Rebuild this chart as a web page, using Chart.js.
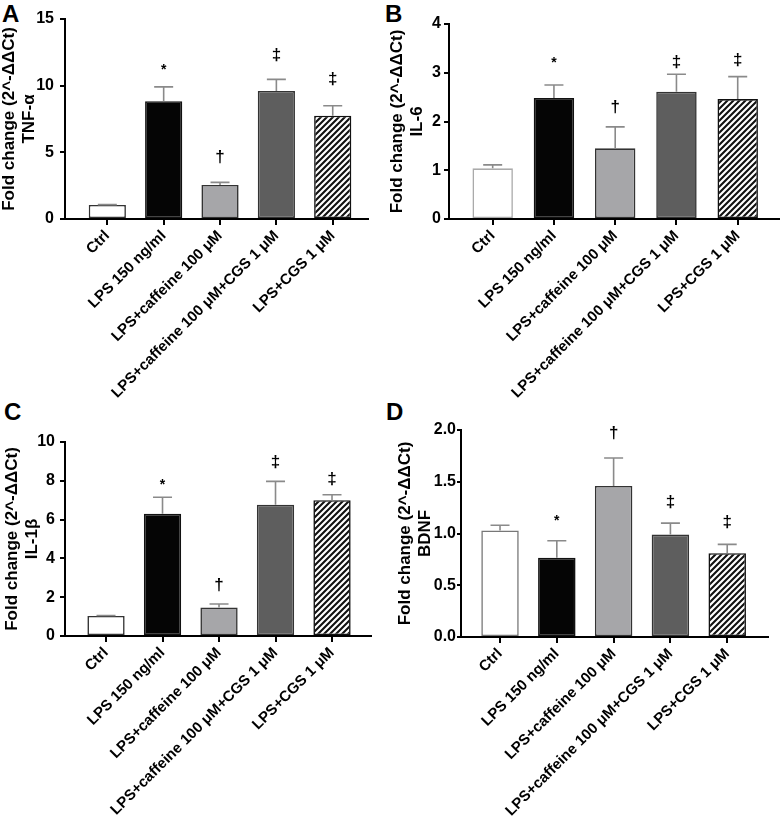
<!DOCTYPE html>
<html><head><meta charset="utf-8">
<script src="https://cdn.jsdelivr.net/npm/chart.js@4.4.0/dist/chart.umd.min.js"></script>
<style>
html,body{margin:0;padding:0;background:#fff;}
body{width:782px;height:826px;position:relative;overflow:hidden;font-family:"Liberation Sans",Arial,sans-serif;}
canvas{position:absolute;}
.lbl{position:absolute;font-weight:bold;font-size:24px;line-height:24px;color:#000;}
</style></head><body>
<div class="lbl" style="left:2px;top:2px">A</div>
<div class="lbl" style="left:385px;top:2px">B</div>
<div class="lbl" style="left:4px;top:400px">C</div>
<div class="lbl" style="left:386px;top:400px">D</div>
<canvas id="cA" width="391" height="400" style="left:0;top:0"></canvas>
<canvas id="cB" width="398" height="400" style="left:384px;top:0"></canvas>
<canvas id="cC" width="391" height="426" style="left:0;top:400px"></canvas>
<canvas id="cD" width="398" height="426" style="left:384px;top:400px"></canvas>
<script>
// ---- data ----
const categories = ['Ctrl', 'LPS 150 ng/ml', 'LPS+caffeine 100 μM', 'LPS+caffeine 100 μM+CGS 1 μM', 'LPS+CGS 1 μM'];
const marks = ['', '*', '†', '‡', '‡'];
const yTitleMain = 'Fold change (2^-ΔΔCt)';

const tnfMean = [1.05, 8.83, 2.55, 9.6, 7.75];
const tnfSem = [0.03, 1.08, 0.2, 0.87, 0.74];
const tnfMarkY = [null, 11.4, 4.66, 12.27, 10.52];
const tnfTicks = [0, 5, 10, 15];

const il6Mean = [1.04, 2.48, 1.45, 2.61, 2.46];
const il6Sem = [0.07, 0.27, 0.44, 0.36, 0.46];
const il6MarkY = [null, 3.26, 2.30, 3.23, 3.26];
const il6Ticks = [0, 1, 2, 3, 4];

const il1bMean = [1.03, 6.3, 1.47, 6.77, 7.0];
const il1bSem = [0.03, 0.85, 0.18, 1.2, 0.28];
const il1bMarkY = [null, 7.95, 2.63, 8.98, 8.08];
const il1bTicks = [0, 2, 4, 6, 8, 10];

const bdnfMean = [1.03, 0.765, 1.46, 0.99, 0.81];
const bdnfSem = [0.05, 0.165, 0.27, 0.11, 0.085];
const bdnfMarkY = [null, 1.15, 1.97, 1.30, 1.11];
const bdnfTicks = [0, 0.5, 1.0, 1.5, 2.0];

// ---- drawing ----
const FAM = '"Liberation Sans", Arial, sans-serif';
Chart.defaults.font.family = FAM;

function makeHatch(ctx) {
  const c = document.createElement('canvas'); c.width = 6; c.height = 6;
  const g = c.getContext('2d');
  g.fillStyle = '#fff'; g.fillRect(0, 0, 6, 6);
  g.strokeStyle = '#111'; g.lineWidth = 2.1;
  g.beginPath();
  g.moveTo(-1, 7); g.lineTo(7, -1);
  g.moveTo(-1, 1); g.lineTo(1, -1);
  g.moveTo(5, 7); g.lineTo(7, 5);
  g.stroke();
  return ctx.createPattern(c, 'repeat');
}

function makeErrPlugin(mean, sem, markY) {
  return {
    id: 'errs',
    afterDatasetsDraw(chart) {
      const ctx = chart.ctx, ys = chart.scales.y;
      const meta = chart.getDatasetMeta(0);
      ctx.save();
      meta.data.forEach((bar, i) => {
        const top = ys.getPixelForValue(mean[i] + sem[i]);
        ctx.strokeStyle = '#8a8a8a'; ctx.lineWidth = 1.6;
        ctx.beginPath();
        ctx.moveTo(bar.x, bar.y); ctx.lineTo(bar.x, top);
        ctx.moveTo(bar.x - 9.5, top); ctx.lineTo(bar.x + 9.5, top);
        ctx.stroke();
        const m = marks[i];
        if (m && markY[i] != null) {
          const yc = ys.getPixelForValue(markY[i]);
          ctx.fillStyle = '#000';
          ctx.font = (m === '*' ? 'bold 14px ' : 'bold 17px ') + FAM;
          ctx.textAlign = 'center'; ctx.textBaseline = 'alphabetic';
          const mt = ctx.measureText(m);
          const yy = yc + (mt.actualBoundingBoxAscent - mt.actualBoundingBoxDescent) / 2;
          ctx.fillText(m, bar.x, yy);
        }
      });
      ctx.restore();
    }
  };
}

function makeChart(id, p) {
  const canvas = document.getElementById(id);
  const ctx = canvas.getContext('2d');
  const hatch = makeHatch(ctx);
  return new Chart(ctx, {
    type: 'bar',
    data: {
      datasets: [{
        data: p.mean.map((v, i) => ({ x: i, y: v })),
        backgroundColor: ['#ffffff', '#050505', '#a6a6a9', '#5e5e5e', hatch],
        borderColor: [p.ctrlBorder, '#111', '#333', '#333', '#111'],
        borderWidth: 1.6,
        borderSkipped: false,
        categoryPercentage: 1,
        barPercentage: 0.66
      }]
    },
    options: {
      responsive: false,
      animation: false,
      events: [],
      layout: { padding: { top: p.top, right: p.right, left: 0, bottom: 0 } },
      plugins: { legend: { display: false }, tooltip: { enabled: false } },
      scales: {
        x: {
          type: 'linear', min: p.xmin, max: p.xmax, bounds: 'data', offset: false,
          afterBuildTicks: s => { s.ticks = categories.map((c, i) => ({ value: i })); },
          afterFit: s => { s.height = p.xh; },
          ticks: {
            autoSkip: false, maxRotation: 45, minRotation: 45, padding: 2, color: '#000',
            font: { family: FAM, size: 15, weight: 'bold' },
            callback: v => categories[v]
          },
          grid: { offset: false, drawOnChartArea: false, drawTicks: true, tickLength: 6, color: '#000', lineWidth: 2 },
          border: { display: true, color: '#000', width: 2 }
        },
        y: {
          min: 0, max: p.ticks[p.ticks.length - 1],
          afterBuildTicks: s => { s.ticks = p.ticks.map(v => ({ value: v })); },
          afterFit: s => { s.width = p.yw; },
          ticks: {
            padding: p.tickPad, color: '#000',
            font: { family: FAM, size: 16, weight: 'bold' },
            callback: v => p.dec ? v.toFixed(1) : String(v)
          },
          grid: { drawOnChartArea: false, drawTicks: true, tickLength: p.tickLen, color: '#000', lineWidth: 2 },
          border: { display: true, color: '#000', width: 2 },
          title: {
            display: true, text: [yTitleMain, p.gene], color: '#000',
            font: { family: FAM, size: 17, weight: 'bold', lineHeight: 1.15 },
            padding: { top: p.tpad, bottom: 0 }
          }
        }
      }
    },
    plugins: [makeErrPlugin(p.mean, p.sem, p.markY)]
  });
}

makeChart('cA', { mean: tnfMean, sem: tnfSem, markY: tnfMarkY, ticks: tnfTicks, gene: 'TNF-α', dec: false,
  yw: 65, xh: 181, top: 19, right: 23, xmin: -0.751, xmax: 4.626, tpad: 0, ctrlBorder: '#333', tickPad: 6, tickLen: 5 });
makeChart('cB', { mean: il6Mean, sem: il6Sem, markY: il6MarkY, ticks: il6Ticks, gene: 'IL-6', dec: false,
  yw: 65, xh: 181, top: 24, right: 3, xmin: -0.713, xmax: 4.674, tpad: 4, ctrlBorder: '#aaa', tickPad: 3, tickLen: 5 });
makeChart('cC', { mean: il1bMean, sem: il1bSem, markY: il1bMarkY, ticks: il1bTicks, gene: 'IL-1β', dec: false,
  yw: 65, xh: 190, top: 42, right: 20, xmin: -0.726, xmax: 4.69, tpad: 2.5, ctrlBorder: '#333', tickPad: 5, tickLen: 5 });
makeChart('cD', { mean: bdnfMean, sem: bdnfSem, markY: bdnfMarkY, ticks: bdnfTicks, gene: 'BDNF', dec: true,
  yw: 77, xh: 189, top: 30, right: 14, xmin: -0.687, xmax: 4.718, tpad: 11.5, ctrlBorder: '#777', tickPad: 1, tickLen: 4 });
</script>
</body></html>
